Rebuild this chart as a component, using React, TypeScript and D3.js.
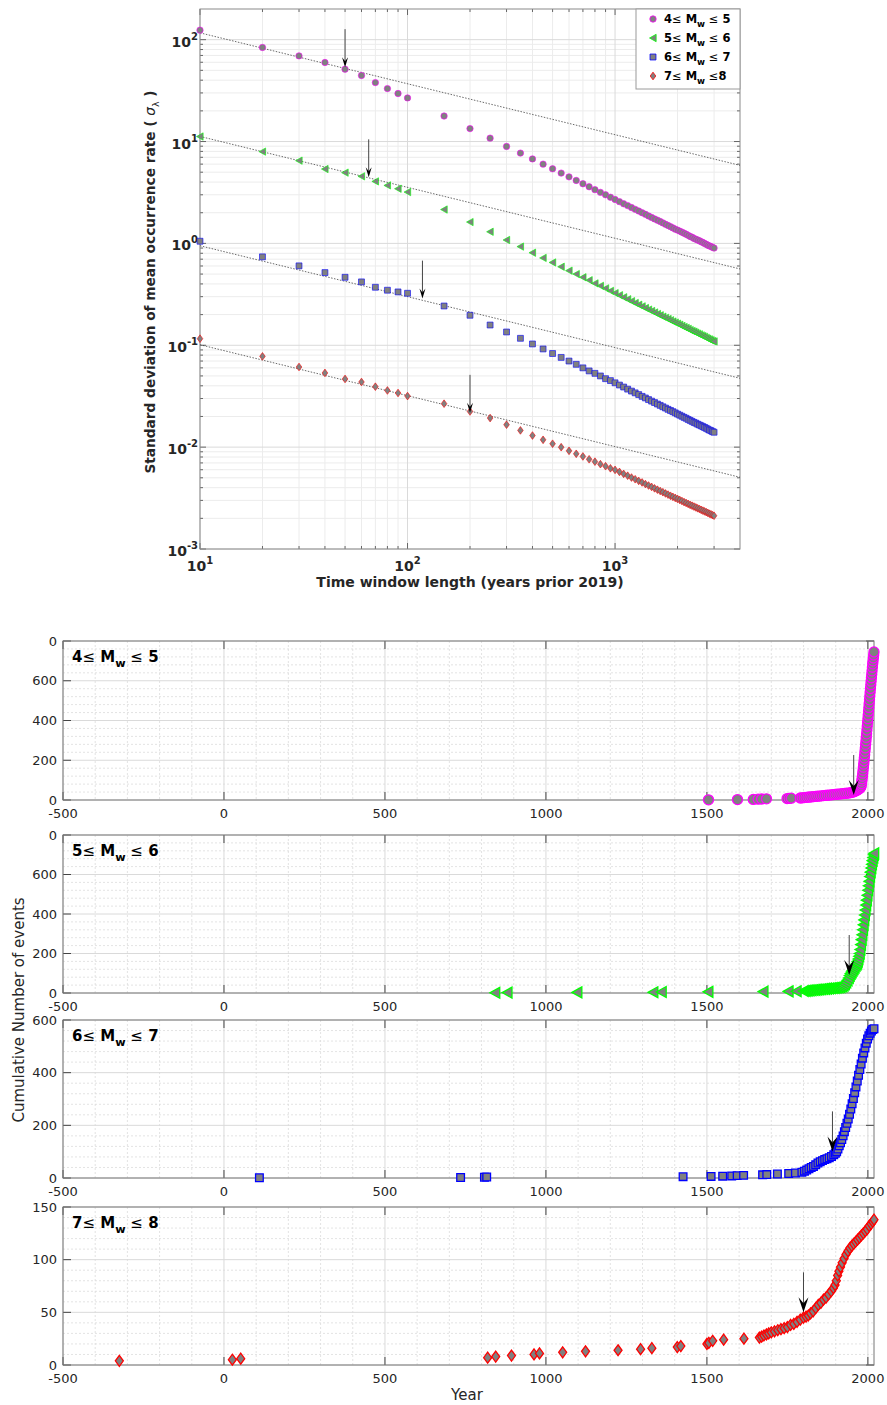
import React, { useEffect, useRef } from 'react';
import * as d3 from 'd3';

const W = 887, H = 1405;
const FONT = '"DejaVu Sans", Verdana, sans-serif';

// ---- top chart: std of mean occurrence rate vs time window ----
const windowYears = [
  10, 20, 30, 40, 50, 60, 70, 80, 90, 100,
  150, 200, 250, 300, 350, 400, 450, 500, 550, 600,
  650, 700, 750, 800, 850, 900, 950, 1000, 1050, 1100,
  1150, 1200, 1250, 1300, 1350, 1400, 1450, 1500, 1550, 1600,
  1650, 1700, 1750, 1800, 1850, 1900, 1950, 2000, 2050, 2100,
  2150, 2200, 2250, 2300, 2350, 2400, 2450, 2500, 2550, 2600,
  2650, 2700, 2750, 2800, 2850, 2900, 2950, 3000,
];

const sigmaM4 = [
  124, 83.8, 69.3, 59.7, 51.3, 44.5, 37.9, 33.1, 29.6, 26.8,
  17.8, 13.4, 10.8, 8.95, 7.7, 6.75, 6.0, 5.4, 4.9, 4.5,
  4.15, 3.85, 3.6, 3.37, 3.17, 3.0, 2.84, 2.7, 2.57, 2.45,
  2.35, 2.25, 2.16, 2.08, 2.0, 1.93, 1.86, 1.8, 1.74, 1.69,
  1.64, 1.59, 1.54, 1.5, 1.46, 1.42, 1.38, 1.35, 1.32, 1.29,
  1.26, 1.23, 1.2, 1.17, 1.15, 1.12, 1.1, 1.08, 1.06, 1.04,
  1.02, 1.0, 0.98, 0.96, 0.945, 0.93, 0.915, 0.9,
];
const sigmaM5 = [
  11.2, 7.96, 6.49, 5.37, 4.95, 4.55, 4.06, 3.71, 3.44, 3.19,
  2.15, 1.62, 1.3, 1.08, 0.93, 0.81, 0.72, 0.65, 0.59, 0.54,
  0.5, 0.465, 0.435, 0.405, 0.383, 0.362, 0.342, 0.325, 0.31, 0.296,
  0.283, 0.271, 0.26, 0.25, 0.241, 0.232, 0.224, 0.217, 0.21, 0.203,
  0.197, 0.191, 0.186, 0.181, 0.176, 0.171, 0.167, 0.163, 0.159, 0.155,
  0.151, 0.148, 0.145, 0.141, 0.138, 0.136, 0.133, 0.13, 0.128, 0.125,
  0.123, 0.121, 0.118, 0.116, 0.114, 0.112, 0.11, 0.109,
];
const sigmaM6 = [
  1.05, 0.738, 0.602, 0.517, 0.465, 0.419, 0.371, 0.347, 0.334, 0.324,
  0.243, 0.197, 0.158, 0.135, 0.117, 0.103, 0.092, 0.083, 0.076, 0.07,
  0.065, 0.06, 0.056, 0.053, 0.05, 0.047, 0.045, 0.0428, 0.0407, 0.0389,
  0.0371, 0.0355, 0.0341, 0.0328, 0.0315, 0.0304, 0.0293, 0.0283, 0.0274, 0.0265,
  0.0257, 0.0249, 0.0242, 0.0235, 0.0229, 0.0223, 0.0217, 0.0211, 0.0206, 0.0201,
  0.0196, 0.0192, 0.0187, 0.0183, 0.0179, 0.0175, 0.0172, 0.0168, 0.0165, 0.0162,
  0.0159, 0.0156, 0.0153, 0.015, 0.0147, 0.0145, 0.0142, 0.014,
];
const sigmaM7 = [
  0.116, 0.0778, 0.0612, 0.0535, 0.0467, 0.0436, 0.0392, 0.036, 0.034, 0.0317,
  0.0267, 0.0224, 0.0193, 0.0166, 0.0146, 0.013, 0.0118, 0.0108, 0.00998, 0.0092,
  0.0086, 0.0081, 0.0076, 0.0072, 0.0068, 0.0065, 0.0062, 0.00598, 0.00571, 0.00546,
  0.00524, 0.00503, 0.00484, 0.00466, 0.0045, 0.00434, 0.0042, 0.00407, 0.00394, 0.00382,
  0.00371, 0.00361, 0.00351, 0.00342, 0.00333, 0.00325, 0.00317, 0.0031, 0.00303, 0.00296,
  0.00289, 0.00283, 0.00277, 0.00271, 0.00266, 0.00261, 0.00256, 0.00251, 0.00247, 0.00242,
  0.00238, 0.00234, 0.0023, 0.00226, 0.00222, 0.00219, 0.00215, 0.00212,
];

// power-law fits sigma = a * t^-0.5
const fitAmp = [369, 35.5, 3.0, 0.32];
const fitExp = -0.5;
const fitRange = [10, 4000];

const arrowWindow = [50, 65, 118, 200];
const arrowTipSigma = [53.7, 4.45, 0.287, 0.0217];

const magLow = ['4', '5', '6', '7'];
const magHigh = ['5', '6', '7', '8'];
const legendSep = [' ≤ ', ' ≤ ', ' ≤ ', ' ≤'];

// ---- bottom panels: cumulative number of events vs year ----
const cumM4: [number, number][] = [
  [1505, 1], [1595, 2], [1644, 3], [1659, 4], [1670, 5], [1685, 6], [1749, 7], [1756, 8], [1762, 9], [1790, 10], [1796, 11],
  [1802, 12], [1808, 13], [1814, 14], [1820, 15], [1826, 16], [1832, 17], [1838, 18], [1844, 19], [1850, 20],
  [1856, 21], [1862, 22], [1868, 23], [1874, 24], [1880, 25], [1886, 26], [1892, 27], [1898, 28], [1904, 29],
  [1910, 30], [1916, 31], [1922, 32], [1928, 33], [1934, 34], [1940, 35], [1946, 37], [1952, 39], [1957, 42],
  [1961, 45], [1965, 48], [1969, 52], [1973, 56], [1976, 60], [1978, 65], [1979, 72], [1980, 82], [1981, 95],
  [1982, 107], [1983, 120], [1984, 135], [1985, 150], [1986, 165], [1987, 180], [1988, 196], [1989, 212],
  [1990, 228], [1991, 245], [1992, 262], [1993, 280], [1994, 297], [1995, 315], [1996, 333], [1997, 352],
  [1998, 371], [1999, 390], [2000, 409], [2001, 428], [2002, 447], [2003, 466], [2004, 485], [2005, 504],
  [2006, 523], [2007, 542], [2008, 561], [2009, 580], [2010, 598], [2011, 615], [2012, 633], [2013, 650],
  [2014, 668], [2015, 685], [2016, 700], [2017, 715], [2018, 730], [2019, 745],
];
const cumM5: [number, number][] = [
  [842, 1], [880, 2], [1097, 3], [1333, 4], [1359, 5], [1504, 6], [1675, 7], [1753, 8], [1778, 9],
  [1800, 10], [1806, 11], [1812, 12], [1818, 13], [1824, 14], [1830, 15], [1836, 16], [1842, 17], [1848, 18],
  [1854, 19], [1860, 20], [1866, 21], [1872, 22], [1878, 23], [1884, 24], [1890, 25], [1896, 26], [1902, 27],
  [1908, 28], [1914, 30], [1920, 33], [1924, 38], [1928, 45], [1932, 54], [1936, 64], [1940, 76], [1943, 88],
  [1946, 98], [1949, 106], [1952, 114], [1955, 122], [1958, 130], [1961, 138], [1964, 145], [1966, 150],
  [1968, 160], [1970, 172], [1972, 186], [1974, 200], [1976, 220], [1978, 245], [1980, 270], [1982, 295],
  [1984, 320], [1986, 345], [1988, 370], [1990, 395], [1992, 420], [1994, 445], [1996, 470], [1998, 495],
  [2000, 520], [2002, 543], [2004, 566], [2006, 590], [2008, 612], [2010, 633], [2012, 652], [2014, 670],
  [2016, 686], [2018, 700], [2019, 707],
];
const cumM6: [number, number][] = [
  [110, 1], [735, 2], [809, 3], [816, 4], [1426, 5], [1513, 6], [1549, 7], [1577, 8], [1594, 9], [1614, 10],
  [1673, 12], [1686, 13], [1719, 15], [1754, 17], [1775, 19],
  [1795, 22], [1803, 26], [1810, 30], [1817, 35], [1824, 40], [1831, 44], [1838, 50], [1845, 57], [1852, 62],
  [1859, 66], [1866, 70], [1873, 73], [1880, 77], [1887, 82], [1894, 88], [1899, 94], [1903, 100], [1907, 110],
  [1911, 122], [1915, 134], [1919, 146], [1923, 160], [1927, 176], [1931, 192], [1935, 208], [1939, 224],
  [1943, 242], [1947, 262], [1951, 282], [1955, 302], [1959, 324], [1963, 346], [1967, 368], [1971, 390],
  [1975, 412], [1979, 433], [1983, 455], [1987, 475], [1991, 494], [1995, 512], [1999, 528], [2003, 540],
  [2007, 550], [2011, 558], [2015, 564], [2019, 567],
];
const cumM7: [number, number][] = [
  [-325, 4], [26, 5], [52, 6], [819, 7], [844, 8], [893, 9], [963, 10], [980, 11], [1052, 12], [1123, 13],
  [1224, 14], [1294, 15], [1329, 16], [1408, 17], [1419, 18], [1500, 20], [1506, 21], [1518, 23], [1552, 24],
  [1615, 25],
  [1663, 26], [1670, 27], [1677, 28], [1685, 29], [1692, 30], [1700, 31], [1710, 32], [1720, 33], [1730, 34],
  [1740, 35], [1750, 36], [1760, 38], [1770, 39], [1780, 41], [1790, 43], [1800, 45], [1808, 46], [1815, 47],
  [1822, 49], [1830, 51], [1838, 54], [1846, 57], [1854, 59], [1862, 62], [1870, 64], [1878, 67], [1886, 70],
  [1893, 73], [1898, 76], [1902, 80], [1906, 85], [1910, 89], [1915, 93], [1920, 97], [1926, 101], [1932, 105],
  [1938, 108], [1944, 111], [1950, 113], [1956, 115], [1962, 117], [1968, 119], [1974, 121], [1980, 123],
  [1986, 125], [1992, 127], [1998, 129], [2004, 132], [2010, 134], [2015, 136], [2019, 138],
];

const panelYMax = [800, 800, 600, 150];
const panelYTicks = [[0, 200, 400, 600, 800], [0, 200, 400, 600, 800], [0, 200, 400, 600], [0, 50, 100, 150]];
const panelYTickLabels = [['0', '200', '400', '600', '0'], ['0', '200', '400', '600', '0'], ['0', '200', '400', '600'], ['0', '50', '100', '150']];
const panelYMinorStep = [40, 40, 40, 10];
const yearTicks = [-500, 0, 500, 1000, 1500, 2000];
const yearMinor = [-400, -300, -200, -100, 100, 200, 300, 400, 600, 700, 800, 900, 1100, 1200, 1300, 1400, 1600, 1700, 1800, 1900];

const arrowYear = [1956, 1942, 1890, 1800];
const arrowTipCount = [25, 91, 101, 50];

const edgeColors = ['#ff00ff', '#00ff00', '#0000ff', '#ff0000'];
const markerKinds = ['circle', 'triangle', 'square', 'diamond'];
const FILL = '#808080';

function markerPath(kind: string, s: number) {
  if (kind === 'circle') return `M${-s},0A${s},${s} 0 1,0 ${s},0A${s},${s} 0 1,0 ${-s},0Z`;
  if (kind === 'triangle') return `M${-s},0L${s * 0.9},${-s * 1.05}L${s * 0.9},${s * 1.05}Z`;
  if (kind === 'square') return `M${-s * 0.8},${-s * 0.8}H${s * 0.8}V${s * 0.8}H${-s * 0.8}Z`;
  return `M0,${-s * 1.1}L${s * 0.8},0L0,${s * 1.1}L${-s * 0.8},0Z`;
}

function magLabel(g: any, x: number, y: number, i: number, size: number, sep: string) {
  const t = g.append('text').attr('x', x).attr('y', y)
    .attr('font-family', FONT).attr('font-size', size).attr('font-weight', 'bold').attr('fill', '#000');
  t.append('tspan').text(magLow[i]);
  t.append('tspan').attr('font-weight', 'normal').text('≤');
  t.append('tspan').text(' M');
  t.append('tspan').attr('font-size', size * 0.75).attr('dy', size * 0.33).text('w');
  t.append('tspan').attr('dy', -size * 0.33).attr('font-weight', 'normal').text(sep.replace(/ $/, ''));
  t.append('tspan').text((sep.endsWith(' ') ? ' ' : '') + magHigh[i]);
}

function drawArrow(g: any, x: number, tipY: number, len: number, hw: number, hl: number) {
  g.append('line').attr('x1', x).attr('x2', x).attr('y1', tipY - len).attr('y2', tipY - hl * 0.6)
    .attr('stroke', '#444').attr('stroke-width', 1);
  g.append('path')
    .attr('d', `M${x},${tipY}L${x - hw / 2},${tipY - hl}L${x},${tipY - hl * 0.6}L${x + hw / 2},${tipY - hl}Z`)
    .attr('fill', '#000');
}

const App = () => {
  const ref = useRef<SVGSVGElement>(null);

  useEffect(() => {
    const svg = d3.select(ref.current);
    svg.selectAll('*').remove();

    // ================= TOP CHART =================
    const L = 200, R = 740, T = 9, B = 549;
    const x = d3.scaleLog().domain([10, 4000]).range([L, R]);
    const y = d3.scaleLog().domain([1e-3, 200]).range([B, T]);
    const top = svg.append('g');

    const xMajor = [10, 100, 1000];
    const xMinor: number[] = [];
    [10, 100, 1000].forEach(d => [2, 3, 4, 5, 6, 7, 8, 9].forEach(k => { if (d * k < 4000) xMinor.push(d * k); }));
    const yMajor = [1e-3, 1e-2, 1e-1, 1, 10, 100];
    const yMinor: number[] = [];
    yMajor.forEach(d => [2, 3, 4, 5, 6, 7, 8, 9].forEach(k => { if (d * k < 200) yMinor.push(d * k); }));

    top.selectAll('.gxm').data(xMinor).join('line')
      .attr('x1', d => x(d)).attr('x2', d => x(d)).attr('y1', T).attr('y2', B)
      .attr('stroke', '#ececec').attr('stroke-width', 1);
    top.selectAll('.gym').data(yMinor).join('line')
      .attr('x1', L).attr('x2', R).attr('y1', d => y(d)).attr('y2', d => y(d))
      .attr('stroke', '#ececec').attr('stroke-width', 1);
    top.selectAll('.gxM').data(xMajor).join('line')
      .attr('x1', d => x(d)).attr('x2', d => x(d)).attr('y1', T).attr('y2', B)
      .attr('stroke', '#dadada').attr('stroke-width', 1);
    top.selectAll('.gyM').data(yMajor).join('line')
      .attr('x1', L).attr('x2', R).attr('y1', d => y(d)).attr('y2', d => y(d))
      .attr('stroke', '#dadada').attr('stroke-width', 1);

    // ticks (inside, all four sides)
    const tk = top.append('g').attr('stroke', '#666').attr('stroke-width', 1);
    xMajor.forEach(d => {
      tk.append('line').attr('x1', x(d)).attr('x2', x(d)).attr('y1', B).attr('y2', B - 6);
      tk.append('line').attr('x1', x(d)).attr('x2', x(d)).attr('y1', T).attr('y2', T + 6);
    });
    xMinor.forEach(d => {
      tk.append('line').attr('x1', x(d)).attr('x2', x(d)).attr('y1', B).attr('y2', B - 3);
      tk.append('line').attr('x1', x(d)).attr('x2', x(d)).attr('y1', T).attr('y2', T + 3);
    });
    yMajor.forEach(d => {
      tk.append('line').attr('x1', L).attr('x2', L + 6).attr('y1', y(d)).attr('y2', y(d));
      tk.append('line').attr('x1', R).attr('x2', R - 6).attr('y1', y(d)).attr('y2', y(d));
    });
    yMinor.forEach(d => {
      tk.append('line').attr('x1', L).attr('x2', L + 3).attr('y1', y(d)).attr('y2', y(d));
      tk.append('line').attr('x1', R).attr('x2', R - 3).attr('y1', y(d)).attr('y2', y(d));
    });

    top.append('rect').attr('x', L).attr('y', T).attr('width', R - L).attr('height', B - T)
      .attr('fill', 'none').attr('stroke', '#8a8a8a').attr('stroke-width', 1);

    // tick labels
    yMajor.forEach(d => {
      const e = Math.round(Math.log10(d));
      const t = top.append('text').attr('x', L - 2).attr('y', y(d) + 7).attr('text-anchor', 'end')
        .attr('font-family', FONT).attr('font-size', 14).attr('font-weight', 'bold').attr('fill', '#262626');
      t.append('tspan').text('10');
      t.append('tspan').attr('dy', -7).attr('font-size', 10).text(String(e));
    });
    xMajor.forEach(d => {
      const e = Math.round(Math.log10(d));
      const t = top.append('text').attr('x', x(d)).attr('y', B + 22).attr('text-anchor', 'middle')
        .attr('font-family', FONT).attr('font-size', 14).attr('font-weight', 'bold').attr('fill', '#262626');
      t.append('tspan').text('10');
      t.append('tspan').attr('dy', -7).attr('font-size', 10).text(String(e));
    });

    top.append('text').attr('x', 470).attr('y', 587).attr('text-anchor', 'middle')
      .attr('font-family', FONT).attr('font-size', 14).attr('font-weight', 'bold').attr('fill', '#262626')
      .text('Time window length (years prior 2019)');
    const yl = top.append('text').attr('transform', 'translate(155,282) rotate(-90)').attr('text-anchor', 'middle')
      .attr('font-family', FONT).attr('font-size', 13.7).attr('font-weight', 'bold').attr('fill', '#262626');
    yl.append('tspan').text('Standard deviation of mean occurrence rate ( ');
    yl.append('tspan').attr('font-style', 'italic').attr('font-weight', 'normal').text('σ');
    yl.append('tspan').attr('dy', 4).attr('font-size', 9.5).attr('font-weight', 'normal').text('λ');
    yl.append('tspan').attr('dy', -4).text(' )');

    // fit lines
    fitAmp.forEach(a => {
      const pts = fitRange.map(t => [x(t), y(a * Math.pow(t, fitExp))] as [number, number]);
      top.append('path').attr('d', d3.line()(pts)).attr('fill', 'none')
        .attr('stroke', '#444').attr('stroke-width', 0.8).attr('stroke-dasharray', '1.5,1.5');
    });

    const sigmas = [sigmaM4, sigmaM5, sigmaM6, sigmaM7];
    const topSizes = [3.2, 3.5, 3.7, 3.5];
    sigmas.forEach((vals, si) => {
      top.append('g').selectAll('path').data(vals).join('path')
        .attr('transform', (d, i) => `translate(${x(windowYears[i])},${y(d)})`)
        .attr('d', markerPath(markerKinds[si], topSizes[si]))
        .attr('fill', FILL).attr('stroke', edgeColors[si]).attr('stroke-width', 0.8).attr('stroke-opacity', 0.75);
    });

    arrowWindow.forEach((t, i) => drawArrow(top, x(t), y(arrowTipSigma[i]), 38, 6, 10));

    // legend
    const lg = top.append('g');
    lg.append('rect').attr('x', 636).attr('y', 9).attr('width', 104).attr('height', 80)
      .attr('fill', '#fff').attr('stroke', '#9a9a9a').attr('stroke-width', 1);
    [0, 1, 2, 3].forEach(i => {
      const cy = 19 + i * 19;
      lg.append('path').attr('transform', `translate(653,${cy})`)
        .attr('d', markerPath(markerKinds[i], topSizes[i]))
        .attr('fill', FILL).attr('stroke', edgeColors[i]).attr('stroke-width', 0.8);
      magLabel(lg, 664, cy + 4, i, 11.5, legendSep[i]);
    });

    // ================= BOTTOM PANELS =================
    const PL = 63, PR = 874;
    const tops = [641, 835, 1020, 1207];
    const bottoms = [800, 993, 1178, 1365];
    const xs = d3.scaleLinear().domain([-500, 2019]).range([PL, PR]);
    const cums = [cumM4, cumM5, cumM6, cumM7];
    const botSizes = [5, 5.2, 4.8, 5];

    cums.forEach((data, pi) => {
      const g = svg.append('g');
      const pt = tops[pi], pb = bottoms[pi];
      const ys = d3.scaleLinear().domain([0, panelYMax[pi]]).range([pb, pt]);
      const minorY = d3.range(0, panelYMax[pi] + 1, panelYMinorStep[pi]).filter(v => !panelYTicks[pi].includes(v));

      g.selectAll('.mx').data(yearMinor).join('line')
        .attr('x1', d => xs(d)).attr('x2', d => xs(d)).attr('y1', pt).attr('y2', pb)
        .attr('stroke', '#dcdcdc').attr('stroke-width', 0.8).attr('stroke-dasharray', '2,2');
      g.selectAll('.my').data(minorY).join('line')
        .attr('x1', PL).attr('x2', PR).attr('y1', d => ys(d)).attr('y2', d => ys(d))
        .attr('stroke', '#dcdcdc').attr('stroke-width', 0.8).attr('stroke-dasharray', '2,2');
      g.selectAll('.Mx').data(yearTicks).join('line')
        .attr('x1', d => xs(d)).attr('x2', d => xs(d)).attr('y1', pt).attr('y2', pb)
        .attr('stroke', '#dadada').attr('stroke-width', 1);
      g.selectAll('.My').data(panelYTicks[pi]).join('line')
        .attr('x1', PL).attr('x2', PR).attr('y1', d => ys(d)).attr('y2', d => ys(d))
        .attr('stroke', '#dadada').attr('stroke-width', 1);

      const tg = g.append('g').attr('stroke', '#444').attr('stroke-width', 1);
      yearTicks.forEach(d => {
        tg.append('line').attr('x1', xs(d)).attr('x2', xs(d)).attr('y1', pb).attr('y2', pb - 8);
        tg.append('line').attr('x1', xs(d)).attr('x2', xs(d)).attr('y1', pt).attr('y2', pt + 8);
      });
      panelYTicks[pi].forEach(d => {
        tg.append('line').attr('x1', PL).attr('x2', PL + 8).attr('y1', ys(d)).attr('y2', ys(d));
        tg.append('line').attr('x1', PR).attr('x2', PR - 8).attr('y1', ys(d)).attr('y2', ys(d));
      });

      g.append('rect').attr('x', PL).attr('y', pt).attr('width', PR - PL).attr('height', pb - pt)
        .attr('fill', 'none').attr('stroke', '#777').attr('stroke-width', 1);

      panelYTicks[pi].forEach((d, k) => {
        g.append('text').attr('x', PL - 6).attr('y', ys(d) + 4.5).attr('text-anchor', 'end')
          .attr('font-family', FONT).attr('font-size', 13).attr('fill', '#262626')
          .text(panelYTickLabels[pi][k]);
      });
      yearTicks.forEach(d => {
        g.append('text').attr('x', xs(d)).attr('y', pb + 18).attr('text-anchor', 'middle')
          .attr('font-family', FONT).attr('font-size', 13).attr('fill', '#262626')
          .text(String(d));
      });

      g.append('g').selectAll('path').data(data).join('path')
        .attr('transform', d => `translate(${xs(d[0])},${ys(d[1])})`)
        .attr('d', markerPath(markerKinds[pi], botSizes[pi]))
        .attr('fill', FILL).attr('stroke', edgeColors[pi]).attr('stroke-width', 1.3);

      drawArrow(g, xs(arrowYear[pi]), ys(arrowTipCount[pi]), 40, 10, 15);

      magLabel(g, 72, pt + 21, pi, 15, ' ≤ ');
    });

    svg.append('text').attr('transform', 'translate(24,1010) rotate(-90)').attr('text-anchor', 'middle')
      .attr('font-family', FONT).attr('font-size', 15).attr('fill', '#262626')
      .text('Cumulative Number of events');
    svg.append('text').attr('x', 467).attr('y', 1400).attr('text-anchor', 'middle')
      .attr('font-family', FONT).attr('font-size', 15).attr('fill', '#262626')
      .text('Year');
  }, []);

  return (
    <svg ref={ref} width={W} height={H} style={{ display: 'block', position: 'absolute', left: 0, top: 0, background: '#fff' }}></svg>
  );
};

export default App;
